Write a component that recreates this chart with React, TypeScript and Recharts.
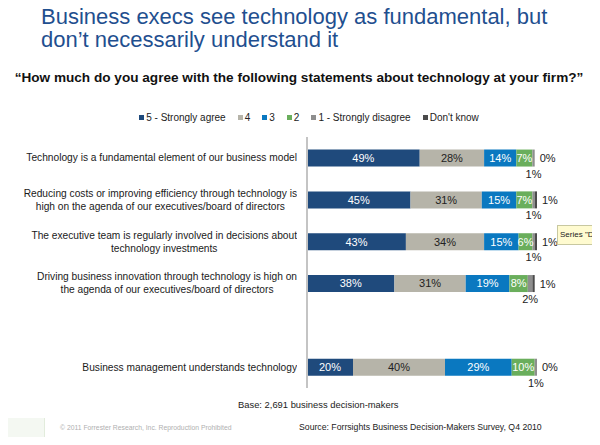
import { BarChart, Bar, XAxis, YAxis, LabelList } from 'recharts'

const statements = [
  ['Technology is a fundamental element of our business model'],
  ['Reducing costs or improving efficiency through technology is', 'high on the agenda of our executives/board of directors'],
  ['The executive team is regularly involved in decisions about', 'technology investments'],
  ['Driving business innovation through technology is high on', 'the agenda of our executives/board of directors'],
  [''],
  ['Business management understands technology'],
]

const stronglyAgree = [49, 45, 43, 38, null, 20]
const agree = [28, 31, 34, 31, null, 40]
const neutral = [14, 15, 15, 19, null, 29]
const disagree = [7, 7, 6, 8, null, 10]
const stronglyDisagree = [1, 1, 1, 2, null, 1]
const dontKnow = [0, 1, 1, 1, null, 0]

const seriesNames = ['5 - Strongly agree', '4', '3', '2', '1 - Strongly disagree', "Don't know"]
const seriesColors = ['#1f4a7c', '#b6b4a9', '#0a78c0', '#6aae5c', '#8e8e8e', '#4b4b4b']

const data = statements.map((lines, i) => ({
  key: 'row' + i,
  lines,
  s5: stronglyAgree[i],
  s4: agree[i],
  s3: neutral[i],
  s2: disagree[i],
  s1: stronglyDisagree[i],
  dk: dontKnow[i],
}))
// LabelList skips the empty spacer row, so its index runs over these
const filledRows = data.filter((d) => d.s1 != null)

const font = 'Arial, "Liberation Sans", sans-serif'
const pct = (v: any) => (v == null ? '' : v + '%')

function StatementTick(props: any) {
  const { x, y, payload } = props
  const row = data.find((d) => d.key === payload.value)
  if (!row || !row.lines[0]) return null
  const h = row.lines.length * 13
  return (
    <foreignObject x={x - 300} y={y - h / 2} width={300} height={h}>
      <div style={{ display: 'flex', justifyContent: 'flex-end', width: 300 }}>
        <div style={{ textAlign: 'center', fontFamily: font, fontSize: 10.2, lineHeight: '13px', color: '#1a1a1a', whiteSpace: 'nowrap' }}>
          {row.lines.map((l, j) => (
            <div key={j}>{l}</div>
          ))}
        </div>
      </div>
    </foreignObject>
  )
}

// labels for the two small segments: "1 - Strongly disagree" below, "Don't know" to the right
function TailLabels(props: any) {
  const { x, y, width, height, value, index } = props
  if (value == null) return null
  const row = filledRows[index]
  if (!row) return null
  const unit = width / value
  const dkEnd = x + width + (row.dk || 0) * unit
  const style = { fontFamily: font, fontSize: 11, fill: '#222' }
  return (
    <g>
      <text x={x + width / 2} y={y + height + 3} textAnchor="middle" dominantBaseline="hanging" style={style}>
        {pct(value)}
      </text>
      <text x={dkEnd + 5} y={y + height / 2} dominantBaseline="central" style={style}>
        {pct(row.dk)}
      </text>
    </g>
  )
}

export default function App() {
  const keys = ['s5', 's4', 's3', 's2', 's1', 'dk']
  return (
    <div style={{ position: 'relative', width: 600, height: 445, background: '#fff', fontFamily: font, margin: -8 }}>
      <div style={{ position: 'absolute', left: 41, top: 5, fontSize: 22, lineHeight: '23px', color: '#1f4f8f', whiteSpace: 'nowrap' }}>
        Business execs see technology as fundamental, but
        <br />
        don’t necessarily understand it
      </div>
      <div style={{ position: 'absolute', left: 0, width: 598, top: 70, textAlign: 'center', fontSize: 13.6, fontWeight: 'bold', color: '#111', whiteSpace: 'nowrap' }}>
        “How much do you agree with the following statements about technology at your firm?”
      </div>
      <div style={{ position: 'absolute', left: 0, width: 618, top: 112, display: 'flex', justifyContent: 'center', gap: 12, fontSize: 10, color: '#222' }}>
        {seriesNames.map((n, i) => (
          <div key={n} style={{ display: 'flex', alignItems: 'center' }}>
            <span style={{ width: 5, height: 5, background: seriesColors[i], marginRight: 2, display: 'inline-block' }} />
            {n}
          </div>
        ))}
      </div>

      <div style={{ position: 'absolute', left: 0, top: 0 }}>
        <BarChart
          width={600}
          height={445}
          data={data}
          layout="vertical"
          margin={{ top: 137, right: 63, bottom: 57, left: 0 }}
          barCategoryGap="30%"
        >
          <XAxis type="number" domain={[0, 100]} hide />
          <YAxis
            type="category"
            dataKey="key"
            width={307}
            tickLine={false}
            axisLine={{ stroke: '#c4c4c4', strokeWidth: 2 }}
            tick={<StatementTick />}
            tickMargin={4}
            interval={0}
          />
          {keys.map((k, i) => (
            <Bar key={k} dataKey={k} stackId="a" fill={seriesColors[i]} isAnimationActive={false}>
              {i < 4 && (
                <LabelList
                  dataKey={k}
                  position="center"
                  formatter={pct}
                  style={{ fontFamily: font, fontSize: 11, fill: i === 1 ? '#222' : '#fff' }}
                />
              )}
              {i === 4 && <LabelList dataKey={k} content={<TailLabels />} />}
            </Bar>
          ))}
        </BarChart>
      </div>

      <div style={{ position: 'absolute', left: 557, top: 225, width: 43, height: 20, background: '#fffbd0', border: '1px solid #c8c8a0', boxSizing: 'border-box', overflow: 'hidden', fontSize: 8, lineHeight: '18px', paddingLeft: 2, color: '#222', whiteSpace: 'nowrap' }}>
        Series "Do
      </div>

      <div style={{ position: 'absolute', left: 238, top: 399, fontSize: 9.4, color: '#222' }}>
        Base: 2,691 business decision-makers
      </div>
      <div style={{ position: 'absolute', left: 299, top: 422, fontSize: 8.7, color: '#222' }}>
        Source: Forrsights Business Decision-Makers Survey, Q4 2010
      </div>
      <div style={{ position: 'absolute', left: 0, top: 418, width: 44, height: 22, background: '#f4f8f2', borderRight: '1px solid #e2ecdc' }} />
      <div style={{ position: 'absolute', left: 60, top: 424, fontSize: 6.8, color: '#b0b0b0' }}>
        © 2011 Forrester Research, Inc. Reproduction Prohibited
      </div>
    </div>
  )
}
